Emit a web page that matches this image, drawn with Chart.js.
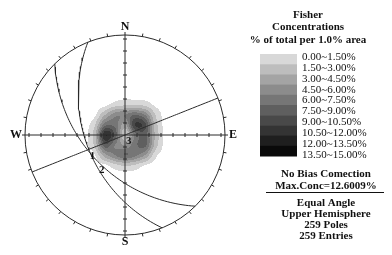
<!DOCTYPE html>
<html>
<head>
<meta charset="utf-8">
<script src="https://cdn.jsdelivr.net/npm/chart.js@4.4.0/dist/chart.umd.min.js"></script>
<style>
body { margin: 0; background: #fff; }
</style>
</head>
<body>
<canvas id="net" width="392" height="255"></canvas>
<script>
// planes (dip direction / dip, degrees), upper hemisphere
var planeNames = ['1', '2', '3'];
var dipDirs = [68.2, 45.4, 338.3];
var dips = [47.4, 48.4, 90];

// Fisher density, % of total per 1% area
// rows north -> south (0.4 .. -0.4), cols west -> east (-0.4 .. 0.4), step 0.1 of radius
var gridStart = -0.4;
var gridStep = 0.1;
var density = [
  [0, 0,   0,    0,   0,   0,    0,   0,   0],
  [0, 0,   0.1,  1.0, 1.4, 1.5,  1.2, 0.2, 0],
  [0, 0.2, 3.0,  5.5, 6.0, 7.5,  6.0, 1.6, 0],
  [0, 1.5, 7.0,  7.0, 4.0, 10.5, 9.5, 2.5, 0],
  [0, 2.5, 11.8, 8.5, 1.5, 6.5,  8.0, 2.8, 0],
  [0, 2.0, 8.5,  6.0, 4.5, 7.0,  8.0, 2.5, 0],
  [0, 0.3, 4.0,  6.0, 7.5, 6.5,  4.5, 0.8, 0],
  [0, 0,   0.2,  1.2, 1.8, 1.4,  0.4, 0,   0],
  [0, 0,   0,    0,   0,   0,    0,   0,   0]
];

var bandLabels = ['0.00~1.50%', '1.50~3.00%', '3.00~4.50%', '4.50~6.00%', '6.00~7.50%',
  '7.50~9.00%', '9.00~10.50%', '10.50~12.00%', '12.00~13.50%', '13.50~15.00%'];
var bandColors = ['#d8d8d8', '#bdbdbd', '#a4a4a4', '#8c8c8c', '#767676',
  '#5f5f5f', '#494949', '#343434', '#1f1f1f', '#0a0a0a'];
var bandStep = 1.5;

var titleLines = ['Fisher', 'Concentrations', '% of total per 1.0% area'];
var noteLines = ['No Bias Comection', 'Max.Conc=12.6009%'];
var infoLines = ['Equal Angle', 'Upper Hemisphere', '259 Poles', '259 Entries'];

var rad = Math.PI / 180;

// stereographic projection of an upward unit vector (east, north, up)
function project(e, n, z) {
  return { x: e / (1 + z), y: n / (1 + z) };
}

function planeTrace(dd, dip) {
  var a = dd * rad, d = dip * rad;
  var s = [Math.sin(a - Math.PI / 2), Math.cos(a - Math.PI / 2), 0];
  var up = [-Math.sin(a) * Math.cos(d), -Math.cos(a) * Math.cos(d), Math.sin(d)];
  var pts = [];
  for (var t = 0; t <= 180; t += 2) {
    var c = Math.cos(t * rad), si = Math.sin(t * rad);
    pts.push(project(c * s[0] + si * up[0], c * s[1] + si * up[1], c * s[2] + si * up[2]));
  }
  return pts;
}

function planeMid(dd, dip) {
  var a = dd * rad, d = dip * rad;
  return project(-Math.sin(a) * Math.cos(d), -Math.cos(a) * Math.cos(d), Math.sin(d));
}

function cr(t) {
  var t2 = t * t, t3 = t2 * t;
  return [(-t3 + 2 * t2 - t) / 2, (3 * t3 - 5 * t2 + 2) / 2, (-3 * t3 + 4 * t2 + t) / 2, (t3 - t2) / 2];
}

function cell(j, i) {
  var n = density.length;
  if (i < 0 || j < 0 || i >= n || j >= n) return 0;
  return density[j][i];
}

// smooth (bicubic) reading of the grid
function densityAt(u, v) {
  var n = density.length;
  var gx = (u - gridStart) / gridStep;
  var gy = (-v - gridStart) / gridStep;
  if (gx < 0 || gy < 0 || gx >= n - 1 || gy >= n - 1) return 0;
  var i = Math.floor(gx), j = Math.floor(gy);
  var wx = cr(gx - i), wy = cr(gy - j);
  var sum = 0;
  for (var b = 0; b < 4; b++) {
    for (var a = 0; a < 4; a++) {
      sum += wx[a] * wy[b] * cell(j - 1 + b, i - 1 + a);
    }
  }
  return sum;
}

var datasets = dipDirs.map(function (dd, i) {
  return {
    label: planeNames[i],
    data: planeTrace(dd, dips[i]),
    showLine: true,
    pointRadius: 0,
    borderColor: '#2a2a2a',
    borderWidth: 1,
    tension: 0,
    fill: false
  };
});

var stereoPlugin = {
  id: 'stereo',
  beforeDatasetsDraw: function (chart) {
    var ctx = chart.ctx, xs = chart.scales.x, ys = chart.scales.y;
    var cx = xs.getPixelForValue(0), cy = ys.getPixelForValue(0);
    var R = xs.getPixelForValue(1) - cx;
    ctx.save();
    // density bands
    var lim = gridStart * -1;
    var x0 = Math.floor(xs.getPixelForValue(-lim)), x1 = Math.ceil(xs.getPixelForValue(lim));
    var y0 = Math.floor(ys.getPixelForValue(lim)), y1 = Math.ceil(ys.getPixelForValue(-lim));
    for (var py = y0; py < y1; py++) {
      for (var px = x0; px < x1; px++) {
        var val = densityAt(xs.getValueForPixel(px + 0.5), ys.getValueForPixel(py + 0.5));
        if (val < 0.35) continue;
        var b = Math.min(bandColors.length - 1, Math.floor(val / bandStep));
        ctx.fillStyle = bandColors[b];
        ctx.fillRect(px, py, 1, 1);
      }
    }
    // primitive
    ctx.strokeStyle = '#2a2a2a';
    ctx.lineWidth = 1;
    ctx.beginPath();
    ctx.arc(cx, cy, R, 0, Math.PI * 2);
    ctx.stroke();
    ctx.beginPath();
    for (var az = 0; az < 360; az += 10) {
      var sx = Math.sin(az * rad), sy = -Math.cos(az * rad);
      ctx.moveTo(cx + sx * R, cy + sy * R);
      ctx.lineTo(cx + sx * (R + 3), cy + sy * (R + 3));
    }
    ctx.stroke();
    // axes with ticks
    ctx.beginPath();
    ctx.moveTo(cx - R, cy); ctx.lineTo(cx + R, cy);
    ctx.moveTo(cx, cy - R); ctx.lineTo(cx, cy + R);
    for (var k = 1; k <= 8; k++) {
      var dpx = k * 0.12 * R;
      [-1, 1].forEach(function (sgn) {
        ctx.moveTo(cx + sgn * dpx, cy - 2); ctx.lineTo(cx + sgn * dpx, cy + 2);
        ctx.moveTo(cx - 2, cy + sgn * dpx); ctx.lineTo(cx + 2, cy + sgn * dpx);
      });
    }
    ctx.stroke();
    // compass letters
    ctx.fillStyle = '#111';
    ctx.font = 'bold 12px "Liberation Serif"';
    ctx.textAlign = 'center';
    ctx.textBaseline = 'middle';
    ctx.fillText('N', cx, cy - R - 8);
    ctx.fillText('S', cx, cy + R + 7);
    ctx.fillText('W', cx - R - 9, cy);
    ctx.fillText('E', cx + R + 8, cy);
    ctx.restore();
  },
  afterDatasetsDraw: function (chart) {
    var ctx = chart.ctx, xs = chart.scales.x, ys = chart.scales.y;
    ctx.save();
    ctx.fillStyle = '#111';
    ctx.font = 'bold 11px "Liberation Serif"';
    ctx.textAlign = 'left';
    ctx.textBaseline = 'top';
    dipDirs.forEach(function (dd, i) {
      var m = planeMid(dd, dips[i]);
      ctx.fillText(planeNames[i], xs.getPixelForValue(m.x) + 1, ys.getPixelForValue(m.y) + (i === 1 ? 3 : 1));
    });

    // legend
    ctx.textAlign = 'center';
    ctx.textBaseline = 'middle';
    ctx.font = 'bold 11px "Liberation Serif"';
    titleLines.forEach(function (t, i) { ctx.fillText(t, 308, 15 + i * 12.5); });
    var barTop = 54, rowH = 10.2;
    bandColors.forEach(function (c, i) {
      ctx.fillStyle = c;
      ctx.fillRect(260, barTop + i * rowH, 37, rowH + 0.5);
    });
    ctx.fillStyle = '#111';
    ctx.textAlign = 'left';
    ctx.font = '11px "Liberation Serif"';
    bandLabels.forEach(function (t, i) { ctx.fillText(t, 302, 57 + i * 10.9); });
    ctx.textAlign = 'center';
    ctx.font = 'bold 11px "Liberation Serif"';
    noteLines.forEach(function (t, i) { ctx.fillText(t, 326, 174 + i * 11.7); });
    ctx.strokeStyle = '#111';
    ctx.beginPath();
    ctx.moveTo(266, 192.5); ctx.lineTo(384, 192.5);
    ctx.stroke();
    infoLines.forEach(function (t, i) { ctx.fillText(t, 326, 203 + i * 11); });
    ctx.restore();
  }
};

new Chart(document.getElementById('net'), {
  type: 'scatter',
  data: { datasets: datasets },
  options: {
    responsive: false,
    animation: false,
    layout: { padding: { left: 25, right: 167, top: 35, bottom: 20 } },
    scales: {
      x: { type: 'linear', min: -1, max: 1, display: false },
      y: { type: 'linear', min: -1, max: 1, display: false }
    },
    plugins: { legend: { display: false }, tooltip: { enabled: false } }
  },
  plugins: [stereoPlugin]
});
</script>
</body>
</html>
